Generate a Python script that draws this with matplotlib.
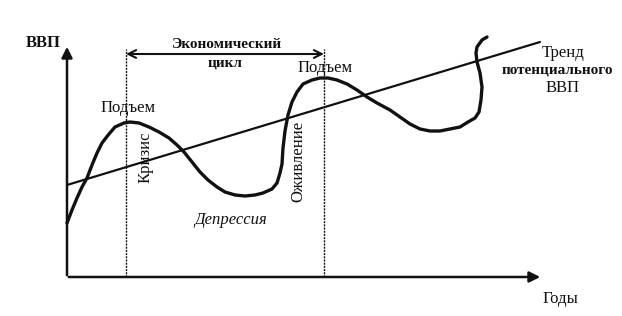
import matplotlib.pyplot as plt

plt.rcParams['font.family'] = ['Liberation Serif', 'DejaVu Serif']

# GDP curve (years, GDP) with the origin at the axes corner
years = [0, 5, 10, 15, 20, 25, 30, 35, 42, 48,
         57, 63, 72, 82, 92, 102, 110, 117, 125, 133,
         141, 150, 158, 168, 178, 188, 196, 205, 210, 213,
         215, 216, 218, 221, 225, 230, 236, 245, 253, 261,
         270, 280, 290, 300, 310, 323, 333, 343, 353, 363,
         373, 383, 393, 401, 408, 412, 414, 415, 413, 410,
         409, 410, 415, 420]
gdp = [54, 67, 79, 90, 99, 112, 124, 134, 143, 150,
       154, 155, 154, 150, 145, 139, 132, 125, 115, 105,
       97, 90, 85, 82, 81, 82, 84, 88, 94, 104,
       113, 129, 146, 162, 175, 185, 193, 197, 199, 199,
       197, 193, 187, 180, 174, 167, 160, 153, 148, 146,
       146, 148, 150, 155, 159, 165, 177, 190, 204, 215,
       224, 230, 237, 240]

# potential GDP trend
trend_years = [0, 473]
trend_gdp = [92, 235]

# one economic cycle, from peak to peak
cycle_start = 59
cycle_end = 257

ink = '#111111'

fig = plt.figure(figsize=(6.22, 3.16), dpi=100)
ax = fig.add_axes([0, 0, 1, 1])
ax.set_xlim(-67, 555)
ax.set_ylim(-39, 277)
ax.axis('off')

# axes with arrows
ax.annotate('', xy=(0, 233), xytext=(0, -1),
            arrowprops=dict(arrowstyle='-|>', lw=1.8, color=ink, mutation_scale=16))
ax.annotate('', xy=(476, 0), xytext=(-1, 0),
            arrowprops=dict(arrowstyle='-|>', lw=1.8, color=ink, mutation_scale=16))

# cycle boundaries and double arrow
for x in (cycle_start, cycle_end):
    ax.plot([x, x], [0, 228], color=ink, lw=1.0, ls=(0, (1.5, 0.8)))
ax.annotate('', xy=(cycle_end, 223), xytext=(cycle_start, 223),
            arrowprops=dict(arrowstyle='<->', lw=1.5, color=ink, mutation_scale=14,
                            shrinkA=0, shrinkB=0))

ax.plot(trend_years, trend_gdp, color=ink, lw=1.6, solid_capstyle='round')
ax.plot(years, gdp, color=ink, lw=2.4, solid_capstyle='round', solid_joinstyle='round')

ax.text(-24, 234, 'ВВП', fontsize=12, fontweight='bold', ha='center', va='center', color=ink)
ax.text(160, 233, 'Экономический', fontsize=11, fontweight='bold', ha='center', va='center', color=ink)
ax.text(158, 214, 'цикл', fontsize=11, fontweight='bold', ha='center', va='center', color=ink)
ax.text(61, 169, 'Подъем', fontsize=12, ha='center', va='center', color=ink)
ax.text(79, 120, 'Кризис', fontsize=12, rotation=90, ha='center', va='center', color=ink)
ax.text(231, 116, 'Оживление', fontsize=12, rotation=90, ha='center', va='center', color=ink)
ax.text(164, 57, 'Депрессия', fontsize=12, style='italic', ha='center', va='center', color=ink)
ax.text(258, 209, 'Подъем', fontsize=12, ha='center', va='center', color=ink)
ax.text(496, 224, 'Тренд', fontsize=12, ha='center', va='center', color=ink)
ax.text(490, 207, 'потенциального', fontsize=11, fontweight='bold', ha='center', va='center', color=ink)
ax.text(496, 189, 'ВВП', fontsize=12, ha='center', va='center', color=ink)
ax.text(493, -22, 'Годы', fontsize=12, ha='center', va='center', color=ink)

fig.savefig('out.png', dpi=100)
